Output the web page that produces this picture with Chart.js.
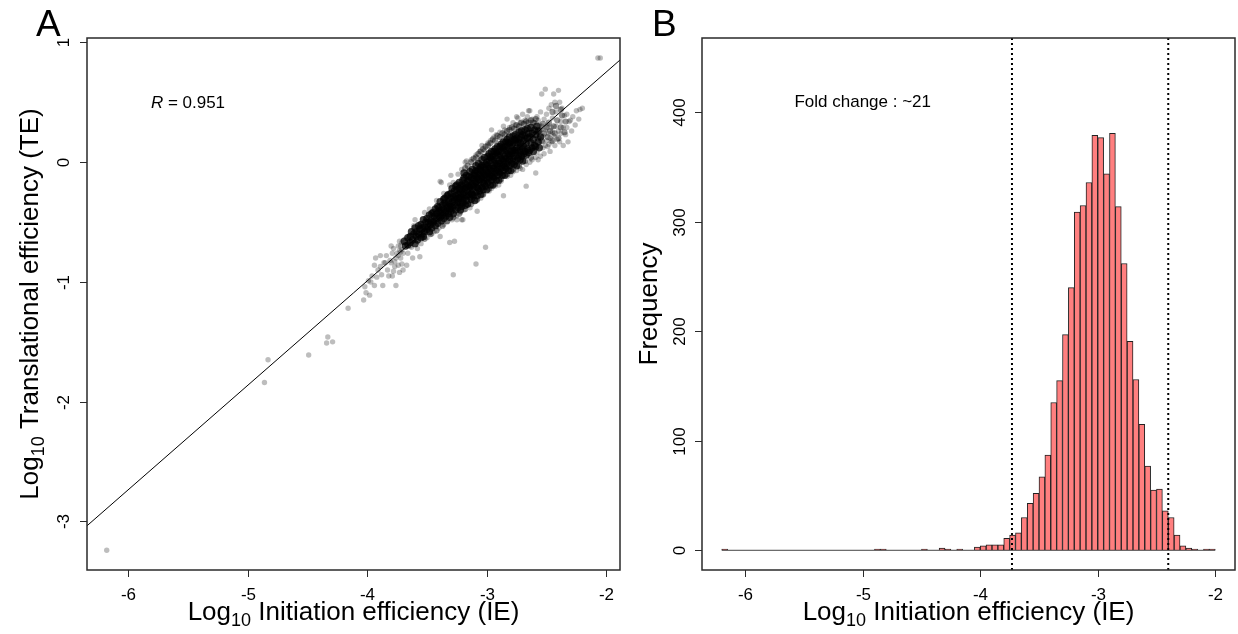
<!DOCTYPE html>
<html><head><meta charset="utf-8">
<script src="https://cdn.jsdelivr.net/npm/chart.js@4.4.1/dist/chart.umd.min.js"></script>
<style>
html,body{margin:0;padding:0;background:#fff;}
#wrap{position:relative;width:1238px;height:634px;overflow:hidden;background:#fff;}
canvas{position:absolute;top:0;}
</style></head><body>
<div id="wrap">
<canvas id="cA" width="632" height="634" style="left:0"></canvas>
<canvas id="cB" width="606" height="634" style="left:632px"></canvas>
</div>
<script>
// ---------- Panel A data ----------
const xLimA = [-6.345, -1.885];
const yLimA = [-3.405, 1.037];
const xTicksA = [-6, -5, -4, -3, -2];
const yTicksA = [-3, -2, -1, 0, 1];
const fitIntercept = 2.497;
const fitSlope = 0.872;
const corrLabel = '0.951';

// dense core of the IE/TE cloud [log10 IE, log10 TE]
const denseCloud = [
[-3.69,-0.66],[-3.68,-0.70],[-3.66,-0.63],[-3.66,-0.69],
[-3.64,-0.62],[-3.64,-0.67],[-3.63,-0.58],[-3.62,-0.65],[-3.61,-0.60],[-3.60,-0.68],
[-3.60,-0.55],[-3.59,-0.62],[-3.59,-0.58],[-3.58,-0.65],[-3.57,-0.53],[-3.57,-0.60],[-3.56,-0.56],[-3.55,-0.63],
[-3.55,-0.52],[-3.54,-0.60],[-3.54,-0.55],[-3.53,-0.48],[-3.53,-0.62],[-3.52,-0.54],[-3.52,-0.58],[-3.51,-0.50],[-3.50,-0.56],
[-3.50,-0.47],[-3.49,-0.54],[-3.49,-0.50],[-3.48,-0.58],[-3.48,-0.44],[-3.47,-0.52],[-3.47,-0.49],[-3.46,-0.55],[-3.46,-0.43],[-3.45,-0.50],
[-3.45,-0.42],[-3.44,-0.49],[-3.44,-0.45],[-3.43,-0.53],[-3.43,-0.39],[-3.42,-0.47],[-3.42,-0.43],[-3.41,-0.51],[-3.41,-0.37],[-3.40,-0.45],[-3.40,-0.41],
[-3.40,-0.38],[-3.39,-0.46],[-3.39,-0.42],[-3.39,-0.33],[-3.38,-0.49],[-3.38,-0.40],[-3.37,-0.36],[-3.37,-0.44],[-3.36,-0.31],[-3.36,-0.47],[-3.36,-0.39],[-3.35,-0.34],[-3.35,-0.42],
[-3.35,-0.30],[-3.34,-0.41],[-3.34,-0.36],[-3.34,-0.45],[-3.33,-0.28],[-3.33,-0.38],[-3.32,-0.33],[-3.32,-0.43],[-3.32,-0.27],[-3.31,-0.39],[-3.31,-0.35],[-3.31,-0.46],[-3.30,-0.30],[-3.30,-0.37],
[-3.30,-0.26],[-3.30,-0.41],[-3.29,-0.33],[-3.29,-0.22],[-3.29,-0.38],[-3.28,-0.29],[-3.28,-0.43],[-3.27,-0.31],[-3.27,-0.24],[-3.27,-0.36],[-3.26,-0.20],[-3.26,-0.40],[-3.26,-0.28],[-3.25,-0.34],[-3.25,-0.23],[-3.25,-0.30],
[-3.25,-0.19],[-3.24,-0.33],[-3.24,-0.27],[-3.24,-0.38],[-3.23,-0.22],[-3.23,-0.30],[-3.23,-0.17],[-3.22,-0.35],[-3.22,-0.25],[-3.22,-0.29],[-3.21,-0.19],[-3.21,-0.37],[-3.21,-0.23],[-3.20,-0.31],[-3.20,-0.15],[-3.20,-0.27],[-3.22,-0.40],
[-3.20,-0.20],[-3.20,-0.34],[-3.19,-0.25],[-3.19,-0.13],[-3.19,-0.30],[-3.18,-0.18],[-3.18,-0.36],[-3.18,-0.22],[-3.17,-0.28],[-3.17,-0.11],[-3.17,-0.32],[-3.16,-0.16],[-3.16,-0.24],[-3.16,-0.35],[-3.15,-0.12],[-3.15,-0.27],[-3.15,-0.20],[-3.17,-0.21],[-3.19,-0.09],
[-3.15,-0.15],[-3.14,-0.29],[-3.14,-0.21],[-3.14,-0.08],[-3.13,-0.26],[-3.13,-0.13],[-3.13,-0.31],[-3.12,-0.18],[-3.12,-0.23],[-3.12,-0.06],[-3.11,-0.28],[-3.11,-0.11],[-3.11,-0.20],[-3.10,-0.32],[-3.10,-0.09],[-3.10,-0.16],[-3.13,-0.19],[-3.12,-0.27],[-3.11,-0.14],
[-3.10,-0.11],[-3.09,-0.25],[-3.09,-0.17],[-3.09,-0.03],[-3.08,-0.21],[-3.08,-0.08],[-3.08,-0.28],[-3.07,-0.14],[-3.07,-0.19],[-3.07,-0.01],[-3.06,-0.24],[-3.06,-0.06],[-3.06,-0.15],[-3.05,-0.27],[-3.05,-0.04],[-3.05,-0.12],[-3.08,-0.13],[-3.07,-0.22],[-3.06,-0.10],[-3.09,-0.07],
[-3.05,-0.07],[-3.04,-0.21],[-3.04,-0.13],[-3.04,0.02],[-3.03,-0.17],[-3.03,-0.04],[-3.03,-0.23],[-3.02,-0.10],[-3.02,-0.15],[-3.02,0.04],[-3.01,-0.20],[-3.01,-0.02],[-3.01,-0.11],[-3.00,-0.23],[-3.00,0.00],[-3.00,-0.08],[-3.03,-0.09],[-3.02,-0.18],[-3.01,-0.06],[-3.04,-0.03],[-3.00,-0.14],
[-2.99,-0.02],[-2.99,-0.17],[-2.99,-0.09],[-2.98,0.07],[-2.98,-0.13],[-2.98,0.01],[-2.97,-0.19],[-2.97,-0.05],[-2.97,-0.11],[-2.96,0.09],[-2.96,-0.15],[-2.96,0.03],[-2.96,-0.07],[-2.95,-0.19],[-2.95,0.05],[-2.95,-0.03],[-2.98,-0.05],[-2.97,0.04],[-2.96,-0.10],[-2.99,0.05],[-2.95,-0.12],
[-2.94,0.02],[-2.94,-0.13],[-2.94,-0.05],[-2.93,0.11],[-2.93,-0.09],[-2.93,0.05],[-2.92,-0.15],[-2.92,-0.01],[-2.92,-0.07],[-2.91,0.13],[-2.91,-0.11],[-2.91,0.07],[-2.91,-0.03],[-2.90,-0.15],[-2.90,0.09],[-2.90,0.01],[-2.93,-0.01],[-2.92,0.08],[-2.91,-0.06],[-2.94,0.09],[-2.90,-0.08],
[-2.89,0.06],[-2.89,-0.09],[-2.89,-0.01],[-2.88,0.15],[-2.88,-0.05],[-2.88,0.09],[-2.87,-0.11],[-2.87,0.03],[-2.87,-0.03],[-2.86,0.17],[-2.86,-0.07],[-2.86,0.11],[-2.86,0.01],[-2.85,-0.11],[-2.85,0.13],[-2.85,0.05],[-2.88,0.03],[-2.87,0.12],[-2.86,-0.02],[-2.89,0.13],[-2.85,-0.04],
[-2.84,0.10],[-2.84,-0.05],[-2.84,0.03],[-2.83,0.19],[-2.83,-0.01],[-2.83,0.13],[-2.82,-0.07],[-2.82,0.07],[-2.82,0.01],[-2.81,0.21],[-2.81,-0.03],[-2.81,0.15],[-2.81,0.05],[-2.80,-0.07],[-2.80,0.17],[-2.80,0.09],[-2.83,0.07],[-2.82,0.16],[-2.81,0.02],[-2.84,0.17],
[-2.79,0.13],[-2.79,-0.01],[-2.79,0.07],[-2.78,0.22],[-2.78,0.03],[-2.78,0.16],[-2.77,-0.02],[-2.77,0.10],[-2.77,0.05],[-2.76,0.23],[-2.76,0.01],[-2.76,0.18],[-2.76,0.08],[-2.75,-0.03],[-2.75,0.20],[-2.75,0.12],[-2.78,0.10],[-2.77,0.19],
[-2.74,0.16],[-2.74,0.03],[-2.74,0.10],[-2.73,0.25],[-2.73,0.06],[-2.73,0.19],[-2.72,0.02],[-2.72,0.13],[-2.72,0.08],[-2.71,0.26],[-2.71,0.05],[-2.71,0.21],[-2.70,0.11],[-2.70,0.01],[-2.70,0.23],[-2.72,0.16],
[-2.69,0.18],[-2.69,0.07],[-2.69,0.13],[-2.68,0.27],[-2.68,0.09],[-2.68,0.22],[-2.67,0.06],[-2.67,0.16],[-2.66,0.11],[-2.66,0.28],[-2.66,0.20],[-2.65,0.08],[-2.65,0.24],
[-2.64,0.21],[-2.64,0.10],[-2.63,0.16],[-2.63,0.29],[-2.62,0.12],[-2.62,0.24],[-2.61,0.09],[-2.61,0.19],[-2.60,0.27],[-2.60,0.14],
[-2.59,0.23],[-2.59,0.13],[-2.58,0.30],[-2.57,0.17],[-2.57,0.26],[-2.56,0.12],[-2.55,0.21]
];

// medium-density fringe of the cloud
const edgeCloud = [
[-3.18,-0.05],[-3.16,-0.03],[-3.13,0.00],[-3.11,0.03],[-3.09,0.04],[-3.07,0.07],[-3.05,0.09],[-3.03,0.11],[-3.01,0.13],[-2.99,0.14],
[-2.97,0.16],[-2.95,0.19],[-2.93,0.18],[-2.91,0.22],[-2.89,0.21],[-2.87,0.24],[-2.85,0.23],[-2.83,0.26],[-2.81,0.27],[-2.79,0.29],
[-2.77,0.28],[-2.75,0.31],[-2.73,0.30],[-2.71,0.33],[-2.69,0.32],[-2.67,0.34],[-2.65,0.33],[-2.63,0.35],[-2.61,0.33],[-2.59,0.36],
[-3.52,-0.64],[-3.47,-0.60],[-3.42,-0.57],[-3.37,-0.53],[-3.33,-0.49],[-3.28,-0.46],[-3.23,-0.43],[-3.18,-0.39],[-3.13,-0.35],[-3.08,-0.31],
[-3.03,-0.27],[-2.98,-0.22],[-2.93,-0.18],[-2.88,-0.14],[-2.83,-0.10],[-2.78,-0.06],[-2.73,-0.03],[-2.68,0.01],[-2.63,0.04],
[-2.57,0.20],[-2.55,0.27],[-2.54,0.18],[-2.53,0.32],[-2.52,0.24],[-2.50,0.29],[-2.49,0.21],[-2.48,0.33],[-2.47,0.26],[-2.45,0.18],
[-2.44,0.30],[-2.43,0.24],[-2.41,0.35],[-2.40,0.20],[-2.38,0.29],[-2.37,0.39],[-2.35,0.25],[-2.34,0.34],[-2.42,0.47],[-2.38,0.44],[-2.45,0.42]
];

// sparse points around the core, tails and outliers
const sparseCloud = [
[-6.18,-3.24],[-4.86,-1.84],[-4.83,-1.65],[-4.49,-1.61],[-4.34,-1.51],[-4.33,-1.46],[-4.29,-1.50],[-4.16,-1.22],
[-4.03,-1.15],[-4.01,-1.09],[-4.02,-1.04],
[-3.98,-1.11],[-3.97,-1.00],[-3.96,-0.95],[-3.99,-0.99],
[-3.93,-0.80],[-3.94,-1.03],[-3.92,-0.96],[-3.91,-0.90],[-3.94,-0.86],
[-3.89,-0.87],[-3.88,-0.94],[-3.87,-1.03],[-3.86,-0.84],[-3.89,-0.78],
[-3.85,-0.84],[-3.83,-0.90],[-3.84,-0.78],[-3.82,-0.95],[-3.81,-0.82],
[-3.80,-0.84],[-3.79,-0.76],[-3.78,-0.91],[-3.77,-0.87],[-3.76,-0.80],[-3.78,-0.72],[-3.76,-1.03],[-3.79,-0.95],[-3.75,-0.76],[-3.77,-0.83],[-3.80,-0.70],
[-3.73,-0.92],[-3.74,-0.78],[-3.72,-0.70],[-3.71,-0.85],[-3.73,-0.66],[-3.72,-0.80],[-3.70,-0.76],[-3.74,-0.86],[-3.71,-0.73],[-3.70,-0.90],
[-3.74,-0.70],[-3.72,-0.75],[-3.71,-0.67],[-3.73,-0.74],
[-3.68,-0.64],[-3.67,-0.86],[-3.66,-0.76],[-3.64,-0.70],[-3.63,-0.71],[-3.62,-0.80],[-3.61,-0.53],[-3.58,-0.72],[-3.56,-0.79],[-3.56,-0.54],[-3.60,-0.48],
[-3.52,-0.42],[-3.48,-0.39],[-3.42,-0.32],[-3.39,-0.16],[-3.38,-0.17],[-3.31,-0.19],[-3.30,-0.11],[-3.36,-0.26],[-3.28,-0.17],[-3.24,-0.10],[-3.18,0.00],[-3.17,0.01],[-3.21,-0.06],[-3.13,0.02],[-3.09,0.06],[-3.06,0.09],[-3.04,0.14],[-3.02,0.10],[-2.99,0.16],[-2.96,0.27],[-2.97,0.18],[-2.94,0.21],[-2.92,0.23],[-2.89,0.25],[-2.86,0.30],[-2.83,0.36],[-2.85,0.27],[-2.81,0.29],[-2.78,0.33],[-2.76,0.31],[-2.74,0.37],[-2.72,0.33],[-2.70,0.40],[-2.68,0.35],[-2.66,0.38],[-2.64,0.43],[-2.62,0.36],
[-3.55,-0.68],[-3.50,-0.63],[-3.46,-0.60],[-3.44,-0.58],[-3.40,-0.55],[-3.36,-0.52],[-3.33,-0.50],[-3.29,-0.48],[-3.25,-0.45],[-3.22,-0.42],[-3.20,-0.48],[-3.19,-0.40],[-3.21,-0.48],[-3.16,-0.36],[-3.14,-0.38],[-3.12,-0.33],[-3.08,-0.32],[-3.05,-0.30],[-3.03,-0.27],[-2.98,-0.24],[-2.96,-0.22],[-2.93,-0.20],[-2.90,-0.19],[-2.88,-0.16],[-2.86,-0.28],[-2.83,-0.12],[-2.80,-0.11],[-2.78,-0.08],[-2.75,-0.07],[-2.72,-0.05],[-2.70,-0.06],[-2.67,-0.20],[-2.67,-0.02],[-2.64,0.00],[-2.59,-0.09],[-2.62,0.02],
[-3.31,-0.67],[-3.27,-0.66],[-3.28,-0.94],[-3.09,-0.85],[-3.01,-0.71],[-3.08,-0.41],[-3.25,-0.48],[-3.39,-0.62],[-2.75,0.38],[-2.65,0.43],
[-2.60,0.33],[-2.59,0.04],[-2.58,0.38],[-2.58,0.08],[-2.57,0.35],[-2.57,0.02],[-2.56,0.31],[-2.56,0.21],[-2.55,0.42],[-2.55,0.05],[-2.58,0.25],[-2.56,0.16],
[-2.54,0.57],[-2.54,0.30],[-2.53,0.12],[-2.53,0.22],[-2.52,0.36],[-2.52,0.07],[-2.51,0.61],[-2.51,0.27],[-2.50,0.18],[-2.50,0.40],[-2.53,0.17],[-2.51,0.14],
[-2.49,0.31],[-2.49,0.13],[-2.48,0.24],[-2.48,0.45],[-2.47,0.20],[-2.47,0.09],[-2.46,0.29],[-2.46,0.17],[-2.45,0.37],[-2.45,0.25],[-2.48,0.15],[-2.46,0.48],
[-2.44,0.57],[-2.44,0.22],[-2.43,0.50],[-2.43,0.14],[-2.42,0.30],[-2.42,0.42],[-2.41,0.19],[-2.40,0.60],[-2.40,0.26],
[-2.39,0.50],[-2.39,0.17],[-2.38,0.34],[-2.38,0.24],[-2.37,0.45],[-2.36,0.14],[-2.36,0.29],[-2.35,0.39],
[-2.34,0.23],[-2.33,0.29],[-2.33,0.40],[-2.32,0.17],[-2.31,0.34],[-2.30,0.35],
[-2.29,0.26],[-2.28,0.38],[-2.26,0.31],[-2.25,0.43],
[-2.23,0.36],[-2.22,0.44],[-2.20,0.45],[-2.07,0.87],[-2.05,0.87]
];

// ---------- Panel B data ----------
const xLimB = [-6.368, -1.832];
const yLimB = [-18, 468];
const xTicksB = [-6, -5, -4, -3, -2];
const yTicksB = [0, 100, 200, 300, 400];
const histStart = -6.2;
const binWidth = 0.05;
const histCounts = [
1,0,0,0,0,0,0,0,0,0, 0,0,0,0,0,0,0,0,0,0,
0,0,0,0,0,0,1,1,0,0, 0,0,0,0,1,0,0,2,1,0,
1,0,0,3,4,5,5,5,11,14, 16,30,43,52,67,87,135,155,197,240,
309,315,336,379,377,344,381,314,262,191, 156,115,77,55,56,36,30,14,4,2,
1,0,1,1
];
const cutoffs = [-3.73, -2.40];
const foldLabel = 'Fold change : ~21';

// ---------- drawing helpers ----------
const FONT = '"Liberation Sans", Arial, Helvetica, sans-serif';
function fmt(v){ return String(v); }
function drawLogTitle(ctx, cx, cy, rotated, rest, size){
  const sub = Math.round(size*0.7);
  ctx.font = size+'px '+FONT; const w1 = ctx.measureText('Log').width; const w3 = ctx.measureText(rest).width;
  ctx.font = sub+'px '+FONT; const w2 = ctx.measureText('10').width;
  const total = w1+w2+w3;
  ctx.save(); ctx.translate(cx, cy); if (rotated) ctx.rotate(-Math.PI/2);
  ctx.textAlign='left'; ctx.textBaseline='alphabetic'; ctx.fillStyle='#000';
  let x = -total/2;
  ctx.font = size+'px '+FONT; ctx.fillText('Log', x, 0); x += w1;
  ctx.font = sub+'px '+FONT; ctx.fillText('10', x, size*0.24); x += w2;
  ctx.font = size+'px '+FONT; ctx.fillText(rest, x, 0);
  ctx.restore();
}
function drawPlainTitle(ctx, cx, cy, text, size){
  ctx.save(); ctx.translate(cx, cy); ctx.rotate(-Math.PI/2);
  ctx.textAlign='center'; ctx.textBaseline='alphabetic'; ctx.fillStyle='#000';
  ctx.font = size+'px '+FONT; ctx.fillText(text, 0, 0); ctx.restore();
}

const rframe = {
  id: 'rframe',
  afterDraw(chart, args, o){
    const ctx = chart.ctx, a = chart.chartArea, xs = chart.scales.x, ys = chart.scales.y;
    ctx.save();
    ctx.strokeStyle = '#2a2a2a'; ctx.lineWidth = 1.5;
    ctx.strokeRect(a.left, a.top, a.right - a.left, a.bottom - a.top);
    ctx.lineWidth = 1; ctx.strokeStyle = '#2a2a2a'; ctx.fillStyle = '#000';
    ctx.font = o.tickSize + 'px ' + FONT;
    ctx.textAlign = 'center'; ctx.textBaseline = 'alphabetic';
    o.xTicks.forEach(v => {
      const px = Math.round(xs.getPixelForValue(v)) + 0.5;
      ctx.beginPath(); ctx.moveTo(px, a.bottom); ctx.lineTo(px, a.bottom + 7); ctx.stroke();
      ctx.fillText(fmt(v), px, a.bottom + 30);
    });
    o.yTicks.forEach(v => {
      const py = Math.round(ys.getPixelForValue(v)) + 0.5;
      ctx.beginPath(); ctx.moveTo(a.left - 7, py); ctx.lineTo(a.left, py); ctx.stroke();
      ctx.save(); ctx.translate(a.left - o.yLabOff, py); ctx.rotate(-Math.PI/2);
      ctx.fillText(fmt(v), 0, 0); ctx.restore();
    });
    drawLogTitle(ctx, (a.left + a.right)/2, a.bottom + 50, false, ' Initiation efficiency (IE)', o.titleSize);
    if (o.yTitleLog) drawLogTitle(ctx, a.left - o.yTitleOff, (a.top + a.bottom)/2, true, o.yTitle, o.titleSize);
    else drawPlainTitle(ctx, a.left - o.yTitleOff, (a.top + a.bottom)/2, o.yTitle, o.titleSize);
    ctx.font = o.letterSize + 'px ' + FONT; ctx.textAlign = 'left'; ctx.fillStyle = '#000';
    ctx.fillText(o.letter, o.letterX, 36);
    const ax = xs.getPixelForValue(o.annot[0]), ay = ys.getPixelForValue(o.annot[1]) + 6;
    ctx.textAlign = 'left';
    if (o.italicR) {
      ctx.font = 'italic ' + o.annotSize + 'px ' + FONT; const wR = ctx.measureText('R').width;
      ctx.font = o.annotSize + 'px ' + FONT; const wRest = ctx.measureText(' = ' + corrLabel).width;
      let x0 = ax - (wR + wRest)/2;
      ctx.font = 'italic ' + o.annotSize + 'px ' + FONT; ctx.fillText('R', x0, ay);
      ctx.font = o.annotSize + 'px ' + FONT; ctx.fillText(' = ' + corrLabel, x0 + wR, ay);
    } else {
      ctx.font = o.annotSize + 'px ' + FONT; ctx.textAlign = 'center';
      ctx.fillText(o.annotText, ax, ay);
    }
    ctx.restore();
  }
};

const common = {
  responsive: false, animation: false, events: [],
  plugins: { legend: { display: false }, tooltip: { enabled: false } }
};

// ---------- Chart A ----------
new Chart(document.getElementById('cA'), {
  type: 'scatter',
  data: { datasets: [
    { type: 'line', data: xLimA.map(x => ({ x: x, y: fitIntercept + fitSlope * x })),
      borderColor: '#000', borderWidth: 1, pointRadius: 0, order: 0 },
    { data: denseCloud.map(p => ({ x: p[0], y: p[1] })), pointRadius: 3.7,
      backgroundColor: 'rgba(0,0,0,0.75)', borderWidth: 0, order: 1 },
    { data: edgeCloud.map(p => ({ x: p[0], y: p[1] })), pointRadius: 3.1,
      backgroundColor: 'rgba(0,0,0,0.42)', borderWidth: 0, order: 2 },
    { data: sparseCloud.map(p => ({ x: p[0], y: p[1] })), pointRadius: 2.7,
      backgroundColor: 'rgba(0,0,0,0.26)', borderWidth: 0, order: 3 }
  ]},
  options: Object.assign({}, common, {
    layout: { padding: { left: 87, top: 38, right: 12, bottom: 64 } },
    scales: {
      x: { type: 'linear', min: xLimA[0], max: xLimA[1], display: false },
      y: { type: 'linear', min: yLimA[0], max: yLimA[1], display: false }
    },
    plugins: Object.assign({}, common.plugins, { rframe: {
      xTicks: xTicksA, yTicks: yTicksA, tickSize: 17, yLabOff: 18, titleSize: 26,
      yTitleLog: true, yTitle: ' Translational efficiency (TE)', yTitleOff: 49,
      letter: 'A', letterX: 36, letterSize: 37,
      annot: [-5.5, 0.5], annotSize: 17, italicR: true
    }})
  }),
  plugins: [rframe]
});

// ---------- Chart B ----------
new Chart(document.getElementById('cB'), {
  type: 'bar',
  data: { datasets: [
    { type: 'bar', data: histCounts.map((c, i) => ({ x: histStart + binWidth * (i + 0.5), y: c })),
      backgroundColor: 'rgb(255,127,127)', borderColor: '#222', borderWidth: 1,
      barPercentage: 1, categoryPercentage: 1, order: 3 },
    { type: 'line', data: [{ x: histStart, y: 0 }, { x: histStart + binWidth * histCounts.length, y: 0 }],
      borderColor: '#444', borderWidth: 1, pointRadius: 0, order: 2 },
    { type: 'line', data: [{ x: cutoffs[0], y: yLimB[0] }, { x: cutoffs[0], y: yLimB[1] }],
      borderColor: '#000', borderWidth: 2, borderDash: [2, 3], pointRadius: 0, order: 0 },
    { type: 'line', data: [{ x: cutoffs[1], y: yLimB[0] }, { x: cutoffs[1], y: yLimB[1] }],
      borderColor: '#000', borderWidth: 2, borderDash: [2, 3], pointRadius: 0, order: 0 }
  ]},
  options: Object.assign({}, common, {
    layout: { padding: { left: 70, top: 38, right: 3, bottom: 64 } },
    scales: {
      x: { type: 'linear', min: xLimB[0], max: xLimB[1], display: false, offset: false },
      y: { type: 'linear', min: yLimB[0], max: yLimB[1], display: false }
    },
    plugins: Object.assign({}, common.plugins, { rframe: {
      xTicks: xTicksB, yTicks: yTicksB, tickSize: 17, yLabOff: 17, titleSize: 26,
      yTitleLog: false, yTitle: 'Frequency', yTitleOff: 45,
      letter: 'B', letterX: 20, letterSize: 37,
      annot: [-5, 410], annotSize: 17, italicR: false, annotText: foldLabel
    }})
  }),
  plugins: [rframe]
});
</script>
</body></html>
